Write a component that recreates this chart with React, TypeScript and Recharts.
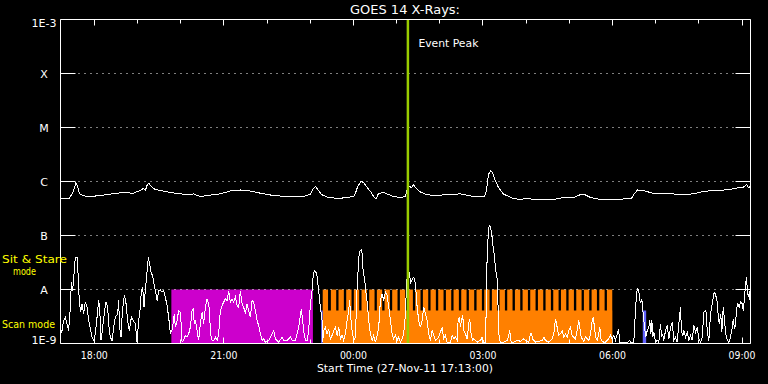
import { ComposedChart, Line, XAxis, YAxis, ReferenceArea, ReferenceLine } from "recharts";

// time axis is hours after 00:00 on 27-Nov-11 (24 = 00:00 on 28-Nov)
const X_DOMAIN: [number, number] = [17.2167, 33.196];
const HOUR_TICKS = [18, 19, 20, 21, 22, 23, 24, 25, 26, 27, 28, 29, 30, 31, 32, 33];
const LABEL_HOURS = [18, 21, 24, 27, 30, 33];
const X_LABELS = ["18:00", "21:00", "00:00", "03:00", "06:00", "09:00"];

const Y_DOMAIN: [number, number] = [1e-9, 1e-3];
const Y_TICKS = [1e-9, 1e-8, 1e-7, 1e-6, 1e-5, 1e-4, 1e-3];
const Y_LABELS = ["1E-9", "A", "B", "C", "M", "X", "1E-3"];
const GRID_LEVELS = [1e-8, 1e-7, 1e-6, 1e-5, 1e-4];

// observing modes
const SIT_STARE_SPAN = [19.784, 23.062];
const SCAN_SPAN = [23.289, 29.992];
const MODE_FLOOR = 1e-9;
const MODE_TOP = 1e-8;
const SCAN_BASE = 4.08e-9;
const RASTER_DURATION = 0.1235;
const RASTER_STARTS = [
  23.289, 23.478, 23.655, 23.833, 24.01, 24.188, 24.366, 24.543, 24.721, 24.898,
  25.076, 25.254, 25.431, 25.609, 25.786, 25.964, 26.142, 26.319, 26.497, 26.674,
  26.852, 27.03, 27.207, 27.385, 27.562, 27.74, 27.918, 28.095, 28.273, 28.45,
  28.628, 28.806, 28.983, 29.161, 29.338, 29.516, 29.694, 29.871,
];
const BLUE_SPANS = [
  [23.252, 23.289],
  [30.701, 30.78],
];
const EVENT_PEAK = 25.262;

// [time, flux W/m^2]
const longChannel: [number, number][] = [
  [17.217, 4.77e-7], [17.421, 4.77e-7], [17.445, 5.27e-7], [17.491, 6.0e-7], [17.537, 7.41e-7],
  [17.572, 9.58e-7], [17.607, 8.45e-7], [17.653, 6.0e-7], [17.746, 5.43e-7], [17.908, 5.27e-7],
  [18.139, 5.5e-7], [18.302, 5.74e-7], [18.487, 6.0e-7], [18.672, 6.25e-7], [18.904, 6.07e-7],
  [18.997, 6.55e-7], [19.066, 6.81e-7], [19.136, 7.41e-7], [19.182, 6.81e-7], [19.228, 8.8e-7],
  [19.263, 9.18e-7], [19.321, 8.07e-7], [19.39, 7.26e-7], [19.529, 6.81e-7], [19.761, 6.25e-7],
  [19.993, 5.9e-7], [20.224, 5.74e-7], [20.294, 5.9e-7], [20.456, 5.27e-7], [20.618, 5.5e-7],
  [20.919, 5.9e-7], [21.151, 6.67e-7], [21.382, 6.96e-7], [21.614, 6.67e-7], [21.846, 6.07e-7],
  [22.147, 5.5e-7], [22.471, 5.27e-7], [22.842, 5.27e-7], [23.004, 5.86e-7], [23.073, 7.41e-7],
  [23.12, 8.07e-7], [23.189, 6.81e-7], [23.259, 5.74e-7], [23.398, 5.16e-7], [23.629, 4.84e-7],
  [23.861, 5.05e-7], [24.023, 5.39e-7], [24.093, 7.77e-7], [24.174, 1.02e-6], [24.232, 9.58e-7],
  [24.301, 8.07e-7], [24.394, 6.55e-7], [24.486, 5.05e-7], [24.533, 4.84e-7], [24.579, 6.0e-7],
  [24.695, 6.25e-7], [24.811, 5.74e-7], [24.927, 5.27e-7], [25.089, 5.05e-7], [25.205, 5.27e-7],
  [25.251, 7.41e-7], [25.297, 8.07e-7], [25.344, 7.77e-7], [25.39, 8.63e-7], [25.459, 7.41e-7],
  [25.552, 6.4e-7], [25.668, 5.86e-7], [25.853, 5.43e-7], [26.177, 5.74e-7], [26.479, 5.9e-7],
  [26.78, 5.27e-7], [27.034, 5.27e-7], [27.081, 6.81e-7], [27.127, 1.35e-6], [27.173, 1.57e-6],
  [27.22, 1.46e-6], [27.266, 1.13e-6], [27.359, 7.77e-7], [27.475, 5.86e-7], [27.706, 4.84e-7],
  [27.868, 4.64e-7], [28.031, 4.94e-7], [28.17, 4.64e-7], [28.633, 4.64e-7], [28.795, 4.94e-7],
  [29.096, 5.05e-7], [29.212, 5.5e-7], [29.281, 5.86e-7], [29.351, 5.74e-7], [29.49, 5.05e-7],
  [29.722, 4.64e-7], [30.023, 4.64e-7], [30.254, 4.74e-7], [30.44, 4.84e-7], [30.509, 6.0e-7],
  [30.579, 6.96e-7], [30.718, 6.81e-7], [30.949, 6.0e-7], [31.274, 6.0e-7], [31.575, 5.74e-7],
  [31.876, 5.9e-7], [32.108, 6.55e-7], [32.339, 6.81e-7], [32.664, 7.0e-7], [32.895, 7.6e-7],
  [33.034, 7.9e-7], [33.104, 8.8e-7], [33.15, 7.77e-7], [33.196, 8.07e-7],
];

const shortChannel: [number, number][] = [
  [17.225, 1.53e-9], [17.252, 1.74e-9], [17.289, 2.67e-9], [17.329, 3.07e-9], [17.368, 2.32e-9],
  [17.405, 1.74e-9], [17.445, 4.7e-9], [17.468, 1.36e-8], [17.498, 9.55e-9], [17.537, 2.25e-8],
  [17.56, 3.97e-8], [17.6, 3.97e-8], [17.623, 1.95e-8], [17.653, 5.82e-9], [17.683, 3.8e-9],
  [17.716, 5.43e-9], [17.753, 3.55e-9], [17.792, 5.82e-9], [17.831, 4.7e-9], [17.868, 2.67e-9],
  [17.908, 1.87e-9], [17.947, 1.31e-9], [17.984, 1.14e-9], [18.024, 1.51e-9], [18.063, 3.07e-9],
  [18.1, 6.25e-9], [18.123, 4.7e-9], [18.156, 1.14e-9], [18.193, 2.0e-9], [18.239, 4.08e-9],
  [18.271, 5.82e-9], [18.309, 4.7e-9], [18.332, 2.32e-9], [18.371, 1.31e-9], [18.41, 1.14e-9],
  [18.448, 2.0e-9], [18.487, 3.07e-9], [18.54, 3.55e-9], [18.563, 6.25e-9], [18.586, 2.0e-9],
  [18.619, 1.31e-9], [18.642, 3.07e-9], [18.679, 6.71e-9], [18.702, 7.75e-9], [18.735, 5.43e-9],
  [18.772, 2.67e-9], [18.811, 1.74e-9], [18.858, 3.07e-9], [18.897, 2.67e-9], [18.95, 2.32e-9],
  [18.99, 1.06e-9], [19.027, 2.67e-9], [19.066, 4.7e-9], [19.089, 9.55e-9], [19.119, 1.11e-8],
  [19.152, 4.7e-9], [19.182, 1.03e-8], [19.205, 1.47e-8], [19.228, 2.58e-8], [19.251, 3.97e-8],
  [19.281, 2.99e-8], [19.321, 1.95e-8], [19.351, 1.82e-8], [19.383, 1.27e-8], [19.413, 9.55e-9],
  [19.453, 6.25e-9], [19.49, 9.55e-9], [19.529, 9.9e-9], [19.569, 8.9e-9], [19.606, 9.55e-9],
  [19.645, 7.2e-9], [19.684, 5.05e-9], [19.722, 3.07e-9], [19.761, 1.51e-9], [19.807, 1.87e-9],
  [19.853, 3.55e-9], [19.877, 2.0e-9], [19.916, 2.67e-9], [19.953, 4.08e-9], [19.993, 3.8e-9],
  [20.016, 2.0e-9], [20.032, 1.06e-9], [20.069, 1.14e-9], [20.108, 1.41e-9], [20.148, 1.31e-9],
  [20.185, 1.51e-9], [20.224, 2.0e-9], [20.264, 4.08e-9], [20.287, 4.38e-9], [20.317, 2.32e-9],
  [20.34, 2.67e-9], [20.379, 1.74e-9], [20.416, 1.14e-9], [20.456, 2.32e-9], [20.495, 3.8e-9],
  [20.532, 2.32e-9], [20.572, 4.7e-9], [20.611, 6.71e-9], [20.648, 5.43e-9], [20.671, 3.55e-9],
  [20.688, 1.51e-9], [20.727, 1.14e-9], [20.764, 1.14e-9], [20.803, 1.31e-9], [20.843, 1.14e-9],
  [20.88, 1.51e-9], [20.919, 4.08e-9], [20.959, 5.05e-9], [20.996, 5.82e-9], [21.035, 6.71e-9],
  [21.075, 6.25e-9], [21.112, 9.55e-9], [21.151, 5.82e-9], [21.19, 6.71e-9], [21.227, 5.82e-9],
  [21.267, 7.2e-9], [21.306, 5.05e-9], [21.343, 4.7e-9], [21.382, 9.55e-9], [21.422, 5.43e-9],
  [21.459, 4.7e-9], [21.498, 3.55e-9], [21.537, 5.43e-9], [21.575, 4.08e-9], [21.614, 3.07e-9],
  [21.653, 6.25e-9], [21.691, 5.82e-9], [21.73, 4.08e-9], [21.769, 2.67e-9], [21.806, 2.15e-9],
  [21.846, 1.51e-9], [21.885, 1.14e-9], [21.922, 1.22e-9], [21.961, 1.06e-9], [22.038, 1.14e-9],
  [22.117, 1.51e-9], [22.154, 1.74e-9], [22.193, 1.22e-9], [22.27, 1.06e-9], [22.349, 1.31e-9],
  [22.386, 1.14e-9], [22.465, 1.14e-9], [22.502, 1.22e-9], [22.541, 1.31e-9], [22.58, 1.14e-9],
  [22.657, 1.14e-9], [22.696, 1.51e-9], [22.733, 2.0e-9], [22.772, 3.3e-9], [22.795, 4.38e-9],
  [22.825, 2.67e-9], [22.848, 1.74e-9], [22.887, 1.14e-9], [22.927, 1.14e-9], [22.964, 1.74e-9],
  [23.004, 5.43e-9], [23.043, 9.55e-9], [23.066, 1.69e-8], [23.096, 2.25e-8], [23.126, 2.18e-8],
  [23.159, 1.75e-8], [23.196, 9.55e-9], [23.235, 4.7e-9], [23.274, 2.67e-9], [23.288, 1.06e-9],
  [23.311, 1.74e-9], [23.351, 2.0e-9], [23.39, 1.51e-9], [23.428, 1.87e-9], [23.467, 1.22e-9],
  [23.506, 1.41e-9], [23.544, 1.74e-9], [23.583, 2.0e-9], [23.622, 1.41e-9], [23.66, 2.0e-9],
  [23.699, 1.22e-9], [23.738, 1.41e-9], [23.775, 1.14e-9], [23.815, 1.51e-9], [23.854, 2.67e-9],
  [23.891, 4.08e-9], [23.914, 6.25e-9], [23.937, 3.07e-9], [23.97, 1.74e-9], [24.007, 1.14e-9],
  [24.046, 1.31e-9], [24.086, 1.11e-8], [24.109, 2.25e-8], [24.132, 4.59e-8], [24.155, 5.27e-8],
  [24.178, 5.43e-8], [24.201, 4.59e-8], [24.225, 2.25e-8], [24.262, 1.47e-8], [24.294, 8.33e-9],
  [24.324, 5.43e-9], [24.354, 2.67e-9], [24.394, 1.51e-9], [24.433, 1.14e-9], [24.47, 1.41e-9],
  [24.51, 1.06e-9], [24.549, 1.41e-9], [24.586, 2.0e-9], [24.625, 6.25e-9], [24.665, 8.33e-9],
  [24.702, 6.25e-9], [24.741, 8.9e-9], [24.781, 7.75e-9], [24.818, 4.7e-9], [24.857, 2.67e-9],
  [24.896, 1.51e-9], [24.933, 1.22e-9], [24.973, 1.41e-9], [25.012, 1.14e-9], [25.049, 1.31e-9],
  [25.089, 1.06e-9], [25.128, 1.22e-9], [25.165, 1.51e-9], [25.205, 3.55e-9], [25.228, 1.11e-8],
  [25.251, 1.95e-8], [25.274, 2.25e-8], [25.304, 1.95e-8], [25.321, 1.27e-8], [25.344, 1.47e-8],
  [25.374, 1.58e-8], [25.397, 1.69e-8], [25.436, 1.27e-8], [25.476, 4.7e-9], [25.513, 2.67e-9],
  [25.552, 2.0e-9], [25.591, 2.67e-9], [25.629, 4.7e-9], [25.668, 3.55e-9], [25.707, 2.67e-9],
  [25.745, 1.51e-9], [25.784, 1.14e-9], [25.823, 1.74e-9], [25.86, 1.41e-9], [25.9, 1.14e-9],
  [25.976, 1.31e-9], [26.055, 2.0e-9], [26.092, 1.22e-9], [26.131, 1.41e-9], [26.171, 1.06e-9],
  [26.247, 1.06e-9], [26.286, 1.41e-9], [26.324, 1.22e-9], [26.363, 1.31e-9], [26.402, 1.14e-9],
  [26.425, 2.67e-9], [26.455, 3.07e-9], [26.479, 2.0e-9], [26.502, 2.67e-9], [26.532, 3.3e-9],
  [26.555, 1.74e-9], [26.594, 1.51e-9], [26.634, 1.22e-9], [26.671, 2.32e-9], [26.694, 2.87e-9],
  [26.726, 1.51e-9], [26.757, 1.14e-9], [26.787, 1.22e-9], [26.866, 1.06e-9], [26.943, 1.14e-9],
  [26.981, 1.31e-9], [27.018, 1.06e-9], [27.065, 1.06e-9], [27.081, 1.69e-8], [27.111, 7.01e-8],
  [27.134, 1.42e-7], [27.158, 1.53e-7], [27.181, 1.33e-7], [27.204, 1.07e-7], [27.227, 7.01e-8],
  [27.25, 5.27e-8], [27.274, 3.43e-8], [27.297, 2.25e-8], [27.329, 1.58e-8], [27.352, 4.38e-9],
  [27.375, 1.22e-9], [27.405, 1.06e-9], [27.482, 1.06e-9], [27.56, 1.14e-9], [27.598, 1.41e-9],
  [27.621, 1.74e-9], [27.653, 1.06e-9], [27.715, 1.06e-9], [27.792, 1.14e-9], [27.869, 1.1e-9],
  [27.946, 1.22e-9], [27.985, 1.14e-9], [28.062, 1.06e-9], [28.101, 1.51e-9], [28.124, 1.51e-9],
  [28.148, 1.22e-9], [28.217, 1.06e-9], [28.293, 1.1e-9], [28.371, 1.14e-9], [28.409, 1.31e-9],
  [28.447, 1.14e-9], [28.524, 1.06e-9], [28.602, 1.22e-9], [28.64, 1.51e-9], [28.68, 2.87e-9],
  [28.703, 2.32e-9], [28.733, 1.74e-9], [28.756, 1.41e-9], [28.795, 1.51e-9], [28.834, 1.74e-9],
  [28.872, 1.31e-9], [28.911, 1.51e-9], [28.95, 1.31e-9], [28.988, 1.74e-9], [29.027, 2.0e-9],
  [29.066, 1.41e-9], [29.104, 1.31e-9], [29.143, 1.22e-9], [29.182, 1.74e-9], [29.219, 2.67e-9],
  [29.243, 2.0e-9], [29.274, 1.31e-9], [29.336, 1.1e-9], [29.375, 1.31e-9], [29.414, 1.22e-9],
  [29.452, 1.14e-9], [29.491, 1.51e-9], [29.53, 2.67e-9], [29.553, 3.07e-9], [29.583, 2.0e-9],
  [29.607, 1.31e-9], [29.645, 1.14e-9], [29.682, 1.51e-9], [29.706, 2.0e-9], [29.737, 1.14e-9],
  [29.797, 1.06e-9], [29.837, 1.06e-9], [29.876, 1.14e-9], [29.914, 1.22e-9], [29.953, 1.41e-9],
  [29.992, 1.22e-9], [30.029, 1.41e-9], [30.068, 1.14e-9], [30.145, 1.87e-9], [30.161, 1.06e-9],
  [30.224, 1.03e-9], [30.301, 1.06e-9], [30.34, 1.03e-9], [30.4, 1.14e-9], [30.417, 1.03e-9],
  [30.493, 1.06e-9], [30.533, 4.08e-9], [30.556, 8.33e-9], [30.579, 1.03e-8], [30.609, 9.55e-9],
  [30.632, 6.25e-9], [30.656, 5.82e-9], [30.679, 6.71e-9], [30.695, 4.7e-9], [30.718, 3.07e-9],
  [30.748, 1.87e-9], [30.772, 1.31e-9], [30.804, 1.74e-9], [30.841, 2.0e-9], [30.865, 2.67e-9],
  [30.888, 1.51e-9], [30.911, 2.67e-9], [30.934, 1.31e-9], [30.957, 1.62e-9], [30.997, 1.06e-9],
  [31.036, 1.14e-9], [31.073, 1.06e-9], [31.112, 2.32e-9], [31.136, 1.31e-9], [31.159, 1.51e-9],
  [31.189, 1.14e-9], [31.228, 1.74e-9], [31.268, 2.15e-9], [31.305, 1.22e-9], [31.344, 2.0e-9],
  [31.383, 2.48e-9], [31.42, 1.14e-9], [31.46, 1.31e-9], [31.499, 1.06e-9], [31.536, 2.32e-9],
  [31.575, 4.7e-9], [31.599, 1.62e-9], [31.629, 1.41e-9], [31.652, 1.74e-9], [31.692, 1.31e-9],
  [31.731, 1.62e-9], [31.768, 1.14e-9], [31.807, 1.41e-9], [31.846, 1.14e-9], [31.883, 2.15e-9],
  [31.923, 1.62e-9], [31.962, 2.0e-9], [31.999, 1.22e-9], [32.038, 1.06e-9], [32.078, 1.31e-9],
  [32.115, 3.8e-9], [32.154, 4.08e-9], [32.177, 3.55e-9], [32.194, 1.62e-9], [32.231, 1.14e-9],
  [32.27, 3.55e-9], [32.31, 5.43e-9], [32.347, 8.33e-9], [32.37, 8.9e-9], [32.402, 7.2e-9],
  [32.425, 5.82e-9], [32.448, 3.3e-9], [32.472, 2.32e-9], [32.508, 3.55e-9], [32.532, 1.62e-9],
  [32.564, 4.7e-9], [32.594, 2.67e-9], [32.624, 1.51e-9], [32.657, 1.14e-9], [32.694, 1.06e-9],
  [32.734, 1.31e-9], [32.773, 2.0e-9], [32.796, 2.87e-9], [32.827, 1.87e-9], [32.85, 2.32e-9],
  [32.873, 4.38e-9], [32.903, 5.43e-9], [32.936, 4.7e-9], [32.966, 5.82e-9], [33.006, 5.43e-9],
  [33.029, 4.08e-9], [33.059, 7.2e-9], [33.082, 1.27e-8], [33.105, 1.69e-8], [33.128, 8.33e-9],
  [33.152, 7.2e-9], [33.175, 9.55e-9], [33.196, 4.08e-9],
];

const longData = longChannel.map(([t, v]) => ({ t, v }));
const shortData = shortChannel.map(([t, v]) => ({ t, v }));

const FONT = "'DejaVu Sans', sans-serif";
const WHITE = "#ffffff";
const crisp = (v: number) => Math.round(v - 0.5) + 0.5;

function LeftTick(props: any) {
  const { x, y, payload } = props;
  const i = Y_TICKS.indexOf(payload.value);
  const dy = payload.value === 1e-3 ? 7.5 : payload.value === 1e-9 ? 0.5 : 4.5;
  const label = Y_LABELS[i];
  return (
    <g>
      <line x1={x} x2={x + 15} y1={y} y2={y} stroke={WHITE} />
      <text
        x={x - 16.5}
        y={y + dy}
        textAnchor="middle"
        fill={WHITE}
        fontSize={11}
        fontFamily={FONT}
        textLength={label.length > 1 ? 25 : undefined}
        lengthAdjust="spacingAndGlyphs"
      >
        {label}
      </text>
    </g>
  );
}

function RightTick(props: any) {
  const { x, y } = props;
  return <line x1={x - 15} x2={x} y1={y} y2={y} stroke={WHITE} />;
}

function BottomTick(props: any) {
  const { x, y, payload } = props;
  const i = LABEL_HOURS.indexOf(payload.value);
  const cx = crisp(x);
  return (
    <g>
      <line x1={cx} x2={cx} y1={y} y2={y - (i >= 0 ? 6 : 4)} stroke={WHITE} />
      {i >= 0 && (
        <text
          x={x}
          y={y + 15.5}
          textAnchor="middle"
          fill={WHITE}
          fontSize={10.5}
          fontFamily={FONT}
          textLength={27}
          lengthAdjust="spacingAndGlyphs"
        >
          {X_LABELS[i]}
        </text>
      )}
    </g>
  );
}

function TopTick(props: any) {
  const { x, y, payload } = props;
  const major = LABEL_HOURS.includes(payload.value);
  const cx = crisp(x);
  return <line x1={cx} x2={cx} y1={y} y2={y + (major ? 6 : 4)} stroke={WHITE} />;
}

function EventLabel(props: any) {
  const { viewBox } = props;
  return (
    <text
      x={viewBox.x + 10.5}
      y={viewBox.y + 27.5}
      fill={WHITE}
      fontSize={11}
      fontFamily={FONT}
      textLength={60}
      lengthAdjust="spacingAndGlyphs"
    >
      Event Peak
    </text>
  );
}

export default function App() {
  return (
    <div style={{ position: "relative", width: 768, height: 384, background: "#000" }}>
      <style>{"body{margin:0;background:#000} .recharts-line-curve{shape-rendering:crispEdges}"}</style>
      <ComposedChart width={768} height={384} margin={{ top: 0.5, right: 0, bottom: 0, left: 0.5 }}>
        <XAxis
          dataKey="t"
          type="number"
          domain={X_DOMAIN}
          allowDataOverflow
          ticks={HOUR_TICKS}
          interval={0}
          height={40.5}
          tickSize={0}
          tickMargin={0}
          tickLine={false}
          axisLine={{ stroke: WHITE }}
          tick={BottomTick}
        />
        <XAxis
          xAxisId="top"
          orientation="top"
          dataKey="t"
          type="number"
          domain={X_DOMAIN}
          allowDataOverflow
          ticks={HOUR_TICKS}
          interval={0}
          height={19}
          tickSize={0}
          tickMargin={0}
          tickLine={false}
          axisLine={{ stroke: WHITE }}
          tick={TopTick}
        />
        <YAxis
          type="number"
          scale="log"
          domain={Y_DOMAIN}
          allowDataOverflow
          ticks={Y_TICKS}
          interval={0}
          width={60}
          tickSize={0}
          tickMargin={0}
          tickLine={false}
          axisLine={{ stroke: WHITE }}
          tick={LeftTick}
        />
        <YAxis
          yAxisId="right"
          orientation="right"
          type="number"
          scale="log"
          domain={Y_DOMAIN}
          allowDataOverflow
          ticks={Y_TICKS}
          interval={0}
          width={17.5}
          tickSize={0}
          tickMargin={0}
          tickLine={false}
          axisLine={{ stroke: WHITE }}
          tick={RightTick}
        />

        <ReferenceArea
          x1={SIT_STARE_SPAN[0]}
          x2={SIT_STARE_SPAN[1]}
          y1={MODE_FLOOR}
          y2={MODE_TOP}
          fill="#cc00cc"
          fillOpacity={1}
          ifOverflow="visible"
        />
        <ReferenceArea
          x1={SCAN_SPAN[0]}
          x2={SCAN_SPAN[1]}
          y1={MODE_FLOOR}
          y2={SCAN_BASE}
          fill="#ff8000"
          fillOpacity={1}
          ifOverflow="visible"
        />
        {RASTER_STARTS.map((s) => (
          <ReferenceArea
            key={s}
            x1={s}
            x2={s + RASTER_DURATION}
            y1={MODE_FLOOR}
            y2={MODE_TOP}
            fill="#ff8000"
            fillOpacity={1}
            ifOverflow="visible"
          />
        ))}
        {BLUE_SPANS.map(([a, b]) => (
          <ReferenceArea
            key={a}
            x1={a}
            x2={b}
            y1={MODE_FLOOR}
            y2={SCAN_BASE}
            fill="#6464ff"
            fillOpacity={1}
            ifOverflow="visible"
          />
        ))}

        {GRID_LEVELS.map((lv) => (
          <ReferenceLine key={lv} y={lv} stroke={WHITE} strokeDasharray="1 5" ifOverflow="visible" />
        ))}

        <Line
          data={longData}
          dataKey="v"
          type="linear"
          stroke={WHITE}
          strokeWidth={1}
          dot={false}
          activeDot={false}
          isAnimationActive={false}
        />
        <Line
          data={shortData}
          dataKey="v"
          type="linear"
          stroke={WHITE}
          strokeWidth={1}
          dot={false}
          activeDot={false}
          isAnimationActive={false}
        />

        <ReferenceLine x={EVENT_PEAK} stroke="#99cc00" strokeWidth={2.5} label={EventLabel} />
      </ComposedChart>

      <svg
        width={768}
        height={384}
        style={{ position: "absolute", left: 0, top: 0, pointerEvents: "none" }}
        fontFamily={FONT}
      >
        <text x={405} y={14} textAnchor="middle" fill={WHITE} fontSize={13} textLength={110} lengthAdjust="spacingAndGlyphs">
          GOES 14 X-Rays:
        </text>
        <text x={405} y={372} textAnchor="middle" fill={WHITE} fontSize={11} textLength={176} lengthAdjust="spacingAndGlyphs">
          Start Time (27-Nov-11 17:13:00)
        </text>
        <text x={2} y={263} fill="#ffff00" fontSize={11} textLength={65} lengthAdjust="spacingAndGlyphs">
          Sit &amp; Stare
        </text>
        <text x={13} y={275} fill="#ffff00" fontSize={11} textLength={23} lengthAdjust="spacingAndGlyphs">
          mode
        </text>
        <text x={2} y={328} fill="#ffff00" fontSize={11} textLength={53} lengthAdjust="spacingAndGlyphs">
          Scan mode
        </text>
      </svg>
    </div>
  );
}
